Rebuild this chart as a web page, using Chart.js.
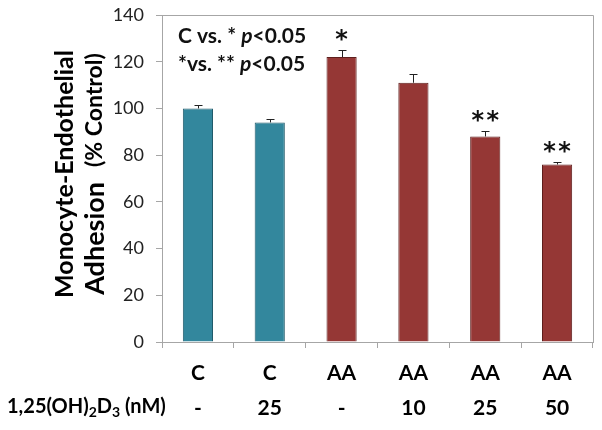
<!DOCTYPE html>
<html>
<head>
<meta charset="utf-8">
<script src="https://cdn.jsdelivr.net/npm/chart.js@4"></script>
<style>
  html, body { margin: 0; padding: 0; background: #fff; }
  #wrap { width: 602px; height: 430px; }
</style>
</head>
<body>
<div id="wrap"><canvas id="adhesionChart" width="602" height="430"></canvas></div>
<script>
// data
const groups = ['C', 'C', 'AA', 'AA', 'AA', 'AA'];
const doses = ['-', '25', '-', '10', '25', '50'];
const adhesion = [100, 94, 122, 111, 88, 76];
const errors = [1.3, 1.6, 3, 3.8, 2.3, 1.2];
const marks = [0, 0, 1, 0, 2, 2]; // number of asterisks over each bar
const yTicks = [0, 20, 40, 60, 80, 100, 120, 140];

const teal = '#33879d';
const red = '#953735';
const barColors = groups.map(g => g === 'C' ? teal : red);
const borderColors = groups.map(g => g === 'C' ? '#205a6a' : '#5e1f1d');

const FONT = 'Lato, "Open Sans", sans-serif';

// draws text made of pieces with different fonts, left to right
function drawPieces(ctx, pieces, x, y) {
    pieces.forEach(p => {
        if (p.gap) { x += p.gap; return; }
        ctx.font = p.font;
        ctx.fillText(p.text, x, y + (p.dy || 0));
        x += ctx.measureText(p.text).width;
    });
}
function piecesWidth(ctx, pieces) {
    let w = 0;
    pieces.forEach(p => {
        if (p.gap) { w += p.gap; return; }
        ctx.font = p.font;
        w += ctx.measureText(p.text).width;
    });
    return w;
}

const extras = {
    id: 'extras',
    afterDatasetsDraw(chart) {
        const { ctx, chartArea, scales } = chart;
        const y = scales.y;
        const meta = chart.getDatasetMeta(0);
        ctx.save();

        // frame top and right
        ctx.strokeStyle = '#a6a6a6';
        ctx.lineWidth = 1;
        ctx.beginPath();
        ctx.moveTo(chartArea.left, Math.round(chartArea.top) + 0.5);
        ctx.lineTo(Math.round(chartArea.right) + 0.5, Math.round(chartArea.top) + 0.5);
        ctx.lineTo(Math.round(chartArea.right) + 0.5, chartArea.bottom);
        ctx.stroke();

        // error bars (upper only)
        ctx.strokeStyle = '#222';
        meta.data.forEach((bar, i) => {
            const cx = Math.round(bar.x) + 0.5;
            const top = y.getPixelForValue(adhesion[i]);
            const eTop = Math.round(y.getPixelForValue(adhesion[i] + errors[i])) + 0.5;
            ctx.beginPath();
            ctx.moveTo(cx, top);
            ctx.lineTo(cx, eTop);
            ctx.moveTo(cx - 4, eTop);
            ctx.lineTo(cx + 4, eTop);
            ctx.stroke();
        });

        // significance asterisks, glyph centred 15px above the error cap
        ctx.fillStyle = '#111';
        ctx.textAlign = 'center';
        ctx.textBaseline = 'alphabetic';
        ctx.font = 'bold 24px "DejaVu Sans", sans-serif';
        const m = ctx.measureText('*');
        const mid = (m.actualBoundingBoxAscent - m.actualBoundingBoxDescent) / 2;
        meta.data.forEach((bar, i) => {
            const n = marks[i];
            if (!n) return;
            const cy = y.getPixelForValue(adhesion[i] + errors[i]) - 15;
            for (let k = 0; k < n; k++) {
                const cx = bar.x + (k - (n - 1) / 2) * 15;
                ctx.fillText('*', cx, cy + mid);
            }
        });

        // note in the top left corner
        ctx.textAlign = 'left';
        const b = 'bold 21px ' + FONT;
        const bi = 'italic bold 21px ' + FONT;
        drawPieces(ctx, [{ text: 'C vs. * ', font: b }, { text: 'p', font: bi }, { text: '<0.05', font: b }], 178, 43);
        drawPieces(ctx, [{ text: '*vs. ** ', font: b }, { text: 'p', font: bi }, { text: '<0.05', font: b }], 178, 71);

        // row label under the x axis
        const rowFont = 'bold 20px ' + FONT;
        const subFont = 'bold 14px ' + FONT;
        ctx.textBaseline = 'middle';
        ctx.fillStyle = '#000';
        drawPieces(ctx, [
            { text: '1,25(OH)', font: rowFont },
            { text: '2', font: subFont, dy: 5 },
            { text: 'D', font: rowFont },
            { text: '3', font: subFont, dy: 5 },
            { text: ' (nM)', font: rowFont }
        ], 7, 407);

        // y axis title, two lines, rotated
        const line1 = [{ text: 'Monocyte-Endothelial', font: 'bold 25px ' + FONT }];
        const line2 = [
            { text: 'Adhesion', font: 'bold 27px ' + FONT },
            { gap: 15 },
            { text: '(% Control)', font: 'bold 23px ' + FONT }
        ];
        [[line1, 65], [line2, 95]].forEach(([pieces, cx]) => {
            ctx.save();
            ctx.translate(cx, 174);
            ctx.rotate(-Math.PI / 2);
            const w = piecesWidth(ctx, pieces);
            drawPieces(ctx, pieces, -w / 2, 0);
            ctx.restore();
        });

        ctx.restore();
    }
};

new Chart(document.getElementById('adhesionChart'), {
    type: 'bar',
    data: {
        labels: groups.map((g, i) => [g, doses[i]]),
        datasets: [{
            data: adhesion,
            backgroundColor: barColors,
            borderColor: borderColors,
            borderWidth: 1,
            barPercentage: 0.42,
            categoryPercentage: 1
        }]
    },
    options: {
        responsive: false,
        animation: false,
        layout: { padding: { left: 0, top: 15, right: 9, bottom: 0 } },
        plugins: { legend: { display: false }, tooltip: { enabled: false } },
        scales: {
            x: {
                afterFit: s => { s.height = 88; s.paddingLeft = 0; s.paddingRight = 0; },
                grid: { drawOnChartArea: false, tickLength: 6, color: '#a6a6a6', offset: true },
                border: { color: '#a6a6a6' },
                ticks: {
                    color: '#000',
                    padding: 8,
                    font: { family: FONT, size: 21, weight: 'bold', lineHeight: 1.65 }
                }
            },
            y: {
                min: 0,
                max: 140,
                afterFit: s => { s.width = 162; s.paddingTop = 0; s.paddingBottom = 0; },
                afterBuildTicks: s => { s.ticks = yTicks.map(v => ({ value: v })); },
                grid: { drawOnChartArea: false, tickLength: 6, color: '#a6a6a6' },
                border: { color: '#a6a6a6' },
                ticks: {
                    color: '#222',
                    padding: 12,
                    font: { family: FONT, size: 18 }
                }
            }
        }
    },
    plugins: [extras]
});
</script>
</body>
</html>
